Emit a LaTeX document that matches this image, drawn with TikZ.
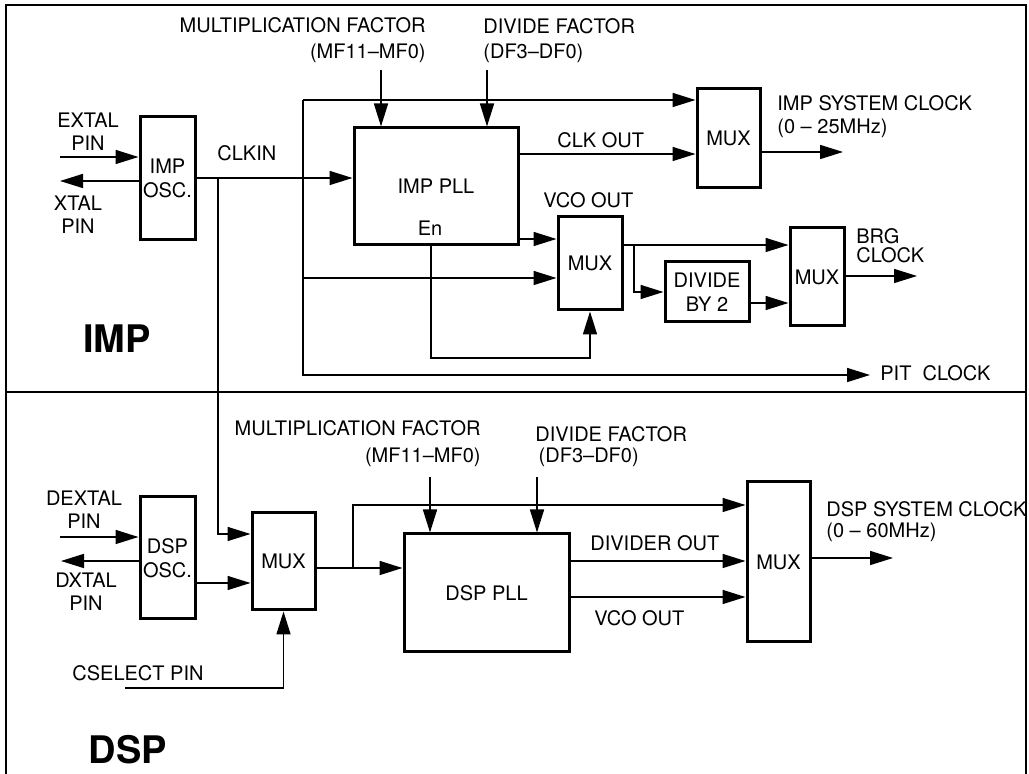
\documentclass[tikz,border=0pt]{standalone}
\usepackage{fontspec}
\setmainfont{TeX Gyre Heros}
\usetikzlibrary{arrows.meta, positioning}

\tikzset{
	blk/.style={draw, line width=1.5pt, inner sep=1pt, align=center,
		font=\fontsize{10}{12}\selectfont},
	lbl/.style={inner sep=0pt, font=\fontsize{10}{11.5}\selectfont},
	part/.style={inner sep=0pt, font=\bfseries\fontsize{19}{22}\selectfont},
	sig/.style={line width=0.8pt, -{Triangle[length=11.5pt, width=7pt]}},
	wire/.style={line width=0.8pt},
	frame/.style={line width=0.9pt},
}

\begin{document}
\begin{tikzpicture}[x=0.5pt, y=-0.5pt]
	\useasboundingbox (0,0) rectangle (1029,774);

	% outer frame, IMP above and DSP below
	\draw[frame] (6,774) -- (6,5) -- (1026,5) -- (1026,774);
	\draw[frame] (6,392) -- (1026,392);

	% IMP blocks
	\node[blk, minimum width=27.5pt, minimum height=61.5pt] (imposc) at (167.5,178.5) {IMP\\OSC.};
	\node[blk, minimum width=82pt, minimum height=58.5pt] (imppll) at (436,186.5) {IMP PLL};
	\node[blk, minimum width=31.5pt, minimum height=49.5pt] (impmux) at (728.5,138.5) {MUX};
	\node[blk, minimum width=32pt, minimum height=46.5pt] (vcomux) at (590,263.5) {MUX};
	\node[blk, minimum width=42pt, minimum height=30pt] (div2) at (707,292) {DIVIDE\\BY 2};
	\node[blk, minimum width=27pt, minimum height=49pt] (brgmux) at (817,277) {MUX};

	% IMP labels
	\node[lbl, align=center] (extaltxt) at (88,132) {EXTAL\\PIN};
	\node[lbl, align=center] (xtaltxt) at (78,215) {XTAL\\PIN};
	\node[lbl, anchor=west] (clkintxt) at (217,153) {CLKIN};
	\node[lbl, align=right, anchor=east] (mfimptxt) at (426,40) {MULTIPLICATION FACTOR\\[1.5pt](MF11–MF0)};
	\node[lbl, align=left, anchor=west] (dfimptxt) at (483,41) {DIVIDE FACTOR\\[1pt](DF3–DF0)};
	\node[lbl] (entxt) at (430,228) {En};
	\node[lbl, anchor=west] (clkouttxt) at (557,140) {CLK OUT};
	\node[lbl, anchor=west] (vcoouttxt) at (543,200) {VCO OUT};
	\node[lbl, align=left, anchor=west] (impclktxt) at (777,117) {IMP SYSTEM CLOCK\\(0 – 25MHz)};
	\node[lbl, align=left, anchor=west] (brgtxt) at (856,246) {BRG\\[-2pt]CLOCK};
	\node[lbl, anchor=west] (pittxt) at (880,373) {PIT\ \ CLOCK};
	\node[part] (imptxt) at (117,339) {IMP};

	% IMP signal points
	\coordinate (extal) at (60,157);
	\coordinate (xtal) at (60,181);
	\coordinate (clkin) at (218,178);
	\coordinate (bypass) at (303,100);
	\coordinate (loopbot) at (303,375);
	\coordinate (pitend) at (870,375);
	\coordinate (vcoin) at (303,278);
	\coordinate (clkout) at (600,154);
	\coordinate (vcoout) at (540,239);
	\coordinate (mfimp) at (381,70);
	\coordinate (dfimp) at (487,70);
	\coordinate (impclk) at (843,152);
	\coordinate (en) at (431,358);
	\coordinate (brgsplit) at (634,245);
	\coordinate (divout) at (770,303);
	\coordinate (brgclk) at (917,276);

	% IMP connections
	\draw[sig] (extal) -- (imposc.west |- extal);
	\draw[sig] (imposc.west |- xtal) -- (xtal);
	\draw[sig] (imposc.east |- clkin) -- (imppll.west |- clkin);
	\draw[sig] (bypass) -- (impmux.west |- bypass);
	\draw[sig] (bypass) -- (loopbot) -- (pitend);
	\draw[sig] (vcoin) -- (vcomux.west |- vcoin);
	\draw[sig] (mfimp) -- (imppll.north -| mfimp);
	\draw[sig] (dfimp) -- (imppll.north -| dfimp);
	\draw[sig] (imppll.east |- clkout) -- (impmux.west |- clkout);
	\draw[sig] (imppll.east |- vcoout) -- (vcomux.west |- vcoout);
	\draw[sig] (imppll.south -| en) -- (en) -| (vcomux.south);
	\draw[sig] (impmux.east |- impclk) -- (impclk);
	\draw[sig] (vcomux.east |- brgsplit) -- (brgmux.west |- brgsplit);
	\draw[sig] (brgsplit) |- (div2.west);
	\draw[sig] (div2.east |- divout) -- (brgmux.west |- divout);
	\draw[sig] (brgmux.east |- brgclk) -- (brgclk);

	% DSP blocks
	\node[blk, minimum width=27.5pt, minimum height=61pt] (dsposc) at (167.5,558) {DSP\\OSC.};
	\node[blk, minimum width=31.5pt, minimum height=48.5pt] (selmux) at (283.5,561.5) {MUX};
	\node[blk, minimum width=82.5pt, minimum height=59pt] (dsppll) at (486.5,593) {DSP PLL};
	\node[blk, minimum width=31.5pt, minimum height=80pt] (dspmux) at (778.5,562) {MUX};

	% DSP labels
	\node[lbl, align=center] (dextaltxt) at (84,510) {DEXTAL\\PIN};
	\node[lbl, align=center] (dxtaltxt) at (86,592) {DXTAL\\PIN};
	\node[lbl, anchor=west] (cseltxt) at (72,673) {CSELECT PIN};
	\node[lbl, align=right, anchor=east] (mfdsptxt) at (481,444) {MULTIPLICATION FACTOR\\[2pt](MF11–MF0)};
	\node[lbl, align=left, anchor=west] (dfdsptxt) at (535,447) {DIVIDE FACTOR\\[-1pt]\,(DF3–DF0)};
	\node[lbl, anchor=west] (divouttxt) at (590,543) {DIVIDER OUT};
	\node[lbl, anchor=west] (vcoout2txt) at (594,618) {VCO OUT};
	\node[lbl, align=left, anchor=west] (dspclktxt) at (826,522) {DSP SYSTEM CLOCK\\[-1pt](0 – 60MHz)};
	\node[part] (dsptxt) at (128,750) {DSP};

	% DSP signal points
	\coordinate (dextal) at (60,537);
	\coordinate (dxtal) at (61,561);
	\coordinate (oscout) at (230,583);
	\coordinate (clkdown) at (218,534);
	\coordinate (csel) at (125,688);
	\coordinate (selout) at (353,568);
	\coordinate (dspbypass) at (353,505);
	\coordinate (mfdsp) at (430,477);
	\coordinate (dfdsp) at (537,477);
	\coordinate (divout2) at (650,561);
	\coordinate (vcoout2) at (650,597);
	\coordinate (dspclk) at (893,558);

	% DSP connections
	\draw[sig] (dextal) -- (dsposc.west |- dextal);
	\draw[sig] (dsposc.west |- dxtal) -- (dxtal);
	\draw[sig] (dsposc.east |- oscout) -- (selmux.west |- oscout);
	\draw[sig] (clkin) -- (clkdown) -- (selmux.west |- clkdown);
	\draw[sig] (csel) -| (selmux.south);
	\draw[sig] (selmux.east |- selout) -- (dsppll.west |- selout);
	\draw[sig] (selout) -- (dspbypass) -- (dspmux.west |- dspbypass);
	\draw[sig] (mfdsp) -- (dsppll.north -| mfdsp);
	\draw[sig] (dfdsp) -- (dsppll.north -| dfdsp);
	\draw[sig] (dsppll.east |- divout2) -- (dspmux.west |- divout2);
	\draw[sig] (dsppll.east |- vcoout2) -- (dspmux.west |- vcoout2);
	\draw[sig] (dspmux.east |- dspclk) -- (dspclk);
\end{tikzpicture}
\end{document}
